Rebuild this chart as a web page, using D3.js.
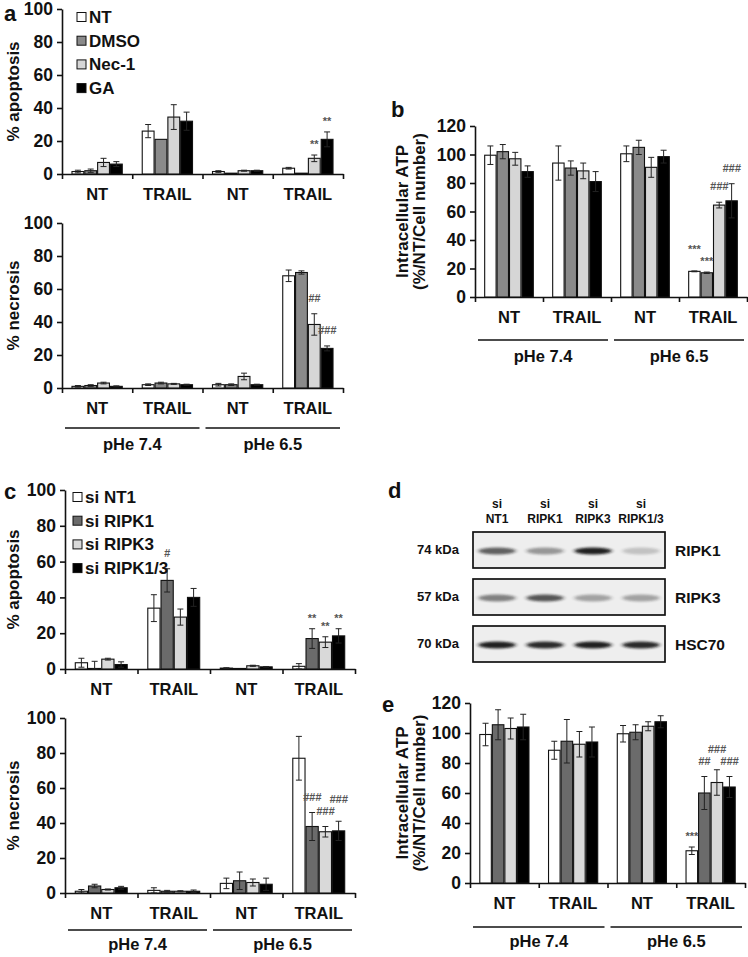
<!DOCTYPE html>
<html>
<head>
<meta charset="utf-8">
<script src="https://cdn.jsdelivr.net/npm/d3@7"></script>
<style>
  body { margin: 0; background: #fff; }
  svg text { font-family: "Liberation Sans", Arial, sans-serif; font-weight: bold; }
</style>
</head>
<body>
<svg id="fig" width="748" height="957"></svg>
<script>
// ---- data ----
const groupLabels = ["NT", "TRAIL", "NT", "TRAIL"];
const phLabels = ["pHe 7.4", "pHe 6.5"];
const seriesDrug = ["NT", "DMSO", "Nec-1", "GA"];
const seriesSi = ["si NT1", "si RIPK1", "si RIPK3", "si RIPK1/3"];
const pctTicks = [0, 20, 40, 60, 80, 100];
const atpTicks = [0, 20, 40, 60, 80, 100, 120];

// rows = groups (NT/TRAIL at 7.4, NT/TRAIL at 6.5), cols = series
const apoptosisA = [[1.5, 2, 7, 6], [26, 21, 34.5, 32], [1.5, 0.5, 2, 2], [3.5, 0.5, 9.5, 21]];
const apoptosisAErr = [[0.8, 1, 2.5, 1.5], [4, 0, 7.5, 5.5], [0.5, 0, 0.3, 0.3], [0.5, 0, 2, 4.5]];
const necrosisA = [[1, 1.5, 3, 1], [2, 3, 2.5, 2], [2, 2, 7, 2], [68, 70, 38.5, 24]];
const necrosisAErr = [[0.5, 0.5, 0.5, 0.3], [0.5, 0.5, 0.3, 0.3], [0.8, 0.5, 2, 0.3], [3.5, 1, 6.5, 1.5]];
const atpB = [[99.5, 102, 97, 88], [94, 90.5, 88.5, 81], [100.5, 105, 91, 98.5], [18, 17, 64.5, 67.5]];
const atpBErr = [[6.5, 5, 4.5, 4], [12, 5, 5.5, 7], [5.5, 5, 7, 4.5], [0.3, 0.5, 2, 12]];
const apoptosisC = [[3.5, 0.3, 5.5, 2.5], [34, 49.5, 29, 40], [0.5, 0.3, 1.8, 1.2], [1.5, 17, 15, 18.5]];
const apoptosisCErr = [[2.5, 4, 0.5, 1.5], [7.5, 6.5, 4.5, 5], [0.2, 0, 0.3, 0.2], [1.5, 5.5, 3, 4]];
const necrosisC = [[1, 4, 2, 3], [1.5, 1, 1, 1], [5.5, 7, 6, 5], [77, 38, 35, 35.5]];
const necrosisCErr = [[1, 1, 0.3, 0.8], [1.5, 0.5, 0.3, 0.7], [3, 5, 2, 3.5], [12.5, 8, 3, 5.5]];
const atpE = [[99, 105.5, 103, 104], [88.5, 94.5, 92.5, 94], [99.5, 100.5, 104.5, 107.5], [21.5, 60, 67, 64]];
const atpEErr = [[7.5, 10, 7, 8.5], [6, 14.5, 8.5, 10], [5.5, 5, 3, 4], [2.5, 11, 8.5, 7]];

// significance marks: [group, series, text]
const sigA1 = [[3, 2, "**"], [3, 3, "**"]];
const sigA2 = [[3, 2, "##"], [3, 3, "###"]];
const sigB = [[3, 0, "***"], [3, 1, "***"], [3, 2, "###"], [3, 3, "###"]];
const sigC1 = [[1, 1, "#"], [3, 1, "**"], [3, 2, "**"], [3, 3, "**"]];
const sigC2 = [[3, 1, "###"], [3, 2, "###"], [3, 3, "###"]];
const sigE = [[3, 0, "***"], [3, 1, "##"], [3, 2, "###"], [3, 3, "###"]];

// western blot
const blotLanes = ["NT1", "RIPK1", "RIPK3", "RIPK1/3"];
const blotProteins = ["RIPK1", "RIPK3", "HSC70"];
const blotKDa = ["74 kDa", "57 kDa", "70 kDa"];
const blotIntensity = [[0.65, 0.4, 0.95, 0.2], [0.5, 0.7, 0.35, 0.35], [0.95, 0.9, 0.95, 0.9]];

const drugColors = ["#ffffff", "#8a8a8a", "#d6d6d6", "#000000"];
const siColors = ["#ffffff", "#6b6b6b", "#d9d9d9", "#000000"];

const svg = d3.select("#fig");

// ---- grouped bar panel ----
function barPanel(o) {
  const g = svg.append("g");
  const y = d3.scaleLinear().domain([0, o.max]).range([o.yBot, o.yTop]);
  const x0 = d3.scaleBand().domain(d3.range(4)).range([o.xL, o.xR]).paddingInner(0.27).paddingOuter(0.135);
  const x1 = d3.scaleBand().domain(d3.range(4)).range([0, x0.bandwidth()]);
  const xEdge = d3.scaleLinear().domain([0, 4]).range([o.xL, o.xR]);

  const ya = g.append("g").attr("transform", `translate(${o.xL},0)`)
    .call(d3.axisLeft(y).tickValues(o.ticks).tickSize(5).tickSizeOuter(0).tickPadding(4));
  ya.selectAll("text").style("font-size", "17.5px").attr("fill", "#111");
  ya.selectAll("line,path").attr("stroke", "#111").attr("stroke-width", 1.6);

  const xa = g.append("g").attr("transform", `translate(0,${o.yBot})`)
    .call(d3.axisBottom(xEdge).tickValues(d3.range(5)).tickFormat("").tickSize(5).tickSizeOuter(0));
  xa.selectAll("line,path").attr("stroke", "#111").attr("stroke-width", 1.6);

  const xl = g.append("g").attr("transform", `translate(0,${o.yBot})`)
    .call(d3.axisBottom(x0).tickSize(0).tickPadding(14).tickFormat(i => groupLabels[i]));
  xl.select(".domain").remove();
  xl.selectAll("text").style("font-size", "16.5px").attr("fill", "#111");

  const rows = [];
  o.vals.forEach((r, gi) => r.forEach((v, si) => rows.push({ gi, si, v, e: o.errs[gi][si] })));

  const bars = g.append("g").selectAll("g").data(rows).join("g")
    .attr("transform", d => `translate(${x0(d.gi) + x1(d.si)},0)`);
  bars.append("rect")
    .attr("x", 0.5).attr("width", x1.bandwidth() - 1)
    .attr("y", d => y(d.v)).attr("height", d => y(0) - y(d.v))
    .attr("fill", d => o.colors[d.si]).attr("stroke", "#111").attr("stroke-width", 1.1);
  const eb = bars.filter(d => d.e > 0).append("g").attr("stroke", "#222").attr("stroke-width", 1);
  const cx = x1.bandwidth() / 2;
  eb.append("line").attr("x1", cx).attr("x2", cx)
    .attr("y1", d => y(Math.max(0, d.v - d.e))).attr("y2", d => y(d.v + d.e));
  eb.append("line").attr("x1", cx - 3).attr("x2", cx + 3)
    .attr("y1", d => y(d.v + d.e)).attr("y2", d => y(d.v + d.e));
  eb.append("line").attr("x1", cx - 3).attr("x2", cx + 3)
    .attr("y1", d => y(Math.max(0, d.v - d.e))).attr("y2", d => y(Math.max(0, d.v - d.e)));

  // significance marks; when two collide, the one on the taller bar goes up
  let prev = null;
  const marks = o.sig.map(d => {
    const mx = x0(d[0]) + x1(d[1]) + cx;
    const star = d[2][0] === "*";
    const m = { mx, star, t: d[2], w: d[2].length * (star ? 4.3 : 6.2),
      my: y(o.vals[d[0]][d[1]] + o.errs[d[0]][d[1]]) - (star ? 7 : 12) };
    if (prev && Math.abs(mx - prev.mx) < (m.w + prev.w) / 2 && Math.abs(m.my - prev.my) < 11) {
      if (m.my < prev.my) m.my = prev.my - 12; else prev.my = m.my - 12;
    }
    prev = m;
    return m;
  });
  g.append("g").selectAll("text").data(marks).join("text")
    .attr("x", d => d.mx).attr("y", d => d.my)
    .attr("text-anchor", "middle").attr("fill", "#555")
    .style("font-size", "11px").style("font-style", d => d.star ? "normal" : "italic")
    .text(d => d.t);

  // y title
  const midY = (o.yTop + o.yBot) / 2;
  o.title.forEach((t, i) => {
    g.append("text").attr("transform", `translate(${o.titleX + i * 17},${midY}) rotate(-90)`)
      .attr("text-anchor", "middle").style("font-size", "17px").attr("fill", "#111").text(t);
  });

  if (o.ph) {
    const yl = o.yBot + o.ph[0];
    phLabels.forEach((p, i) => {
      const a = xEdge(i * 2) + 3, b = xEdge(i * 2 + 2) - 3;
      g.append("line").attr("x1", a).attr("x2", b).attr("y1", yl).attr("y2", yl)
        .attr("stroke", "#111").attr("stroke-width", 1.5);
      g.append("text").attr("x", (a + b) / 2).attr("y", o.yBot + o.ph[1]).attr("text-anchor", "middle")
        .style("font-size", "16.5px").attr("fill", "#111").text(p);
    });
  }

  if (o.legend) {
    const lg = g.append("g").selectAll("g").data(o.legend.names).join("g")
      .attr("transform", (d, i) => `translate(${o.legend.x},${o.legend.y + i * 23.7})`);
    lg.append("rect").attr("x", 0).attr("y", -4.5).attr("width", 9).attr("height", 9)
      .attr("fill", (d, i) => o.colors[i]).attr("stroke", "#111").attr("stroke-width", 1);
    lg.append("text").attr("x", 12).attr("y", 6).style("font-size", "17px").attr("fill", "#111").text(d => d);
  }
}

barPanel({ xL: 62, xR: 343, yTop: 9, yBot: 174, max: 100, ticks: pctTicks, vals: apoptosisA, errs: apoptosisAErr,
  colors: drugColors, sig: sigA1, title: ["% apoptosis"], titleX: 19, legend: { names: seriesDrug, x: 77, y: 17 } });
barPanel({ xL: 62, xR: 343, yTop: 223, yBot: 388, max: 100, ticks: pctTicks, vals: necrosisA, errs: necrosisAErr,
  colors: drugColors, sig: sigA2, title: ["% necrosis"], titleX: 19, ph: [40, 62] });
barPanel({ xL: 475, xR: 747, yTop: 126, yBot: 297, max: 120, ticks: atpTicks, vals: atpB, errs: atpBErr,
  colors: drugColors, sig: sigB, title: ["Intracellular ATP", "(%/NT/Cell number)"], titleX: 408, ph: [43, 65] });
barPanel({ xL: 65, xR: 355, yTop: 490, yBot: 669, max: 100, ticks: pctTicks, vals: apoptosisC, errs: apoptosisCErr,
  colors: siColors, sig: sigC1, title: ["% apoptosis"], titleX: 19, legend: { names: seriesSi, x: 73, y: 497 } });
barPanel({ xL: 65, xR: 355, yTop: 718, yBot: 893, max: 100, ticks: pctTicks, vals: necrosisC, errs: necrosisCErr,
  colors: siColors, sig: sigC2, title: ["% necrosis"], titleX: 19, ph: [37, 57] });
barPanel({ xL: 470, xR: 745, yTop: 703, yBot: 883, max: 120, ticks: atpTicks, vals: atpE, errs: atpEErr,
  colors: siColors, sig: sigE, title: ["Intracellular ATP", "(%/NT/Cell number)"], titleX: 408, ph: [44, 64] });

// ---- western blot (panel d) ----
const defs = svg.append("defs");
defs.append("filter").attr("id", "blur").attr("x", "-30%").attr("y", "-200%").attr("width", "160%").attr("height", "500%")
  .append("feGaussianBlur").attr("stdDeviation", "2 1.2");

const lane = d3.scaleBand().domain(blotLanes).range([473, 665]).paddingInner(0.1).paddingOuter(0.05);
const rowY = d3.scaleOrdinal().domain(blotProteins).range([532, 579, 626]);
const boxH = 36;

const lab = svg.append("g").selectAll("g").data(blotLanes).join("g")
  .attr("transform", d => `translate(${lane(d) + lane.bandwidth() / 2},0)`);
lab.append("text").attr("y", 508).attr("text-anchor", "middle").style("font-size", "12px").attr("fill", "#111").text("si");
lab.append("text").attr("y", 523).attr("text-anchor", "middle").style("font-size", "12px").attr("fill", "#111").text(d => d);

blotProteins.forEach((p, r) => {
  const y0 = rowY(p);
  const bg = svg.append("g");
  bg.append("rect").attr("x", 473).attr("y", y0).attr("width", 192).attr("height", boxH)
    .attr("fill", "#eeeeee").attr("stroke", "#111").attr("stroke-width", 1.7);
  bg.selectAll("ellipse").data(blotIntensity[r]).join("ellipse")
    .attr("cx", (d, i) => lane(blotLanes[i]) + lane.bandwidth() / 2)
    .attr("cy", y0 + boxH / 2 + 1)
    .attr("rx", lane.bandwidth() * 0.43).attr("ry", 3.4)
    .attr("fill", "#141414").attr("opacity", d => d)
    .attr("filter", "url(#blur)");
  bg.append("text").attr("x", 417).attr("y", y0 + boxH / 2 + 4).style("font-size", "13px").attr("fill", "#111").text(blotKDa[r]);
  bg.append("text").attr("x", 675).attr("y", y0 + boxH / 2 + 6).style("font-size", "15.5px").attr("fill", "#111").text(p);
});

// panel letters
const letters = [["a", 4, 21], ["b", 391, 117], ["c", 4, 499], ["d", 388, 498], ["e", 382, 712]];
svg.append("g").selectAll("text").data(letters).join("text")
  .attr("x", d => d[1]).attr("y", d => d[2]).style("font-size", "22px").attr("fill", "#111").text(d => d[0]);
</script>
</body>
</html>
